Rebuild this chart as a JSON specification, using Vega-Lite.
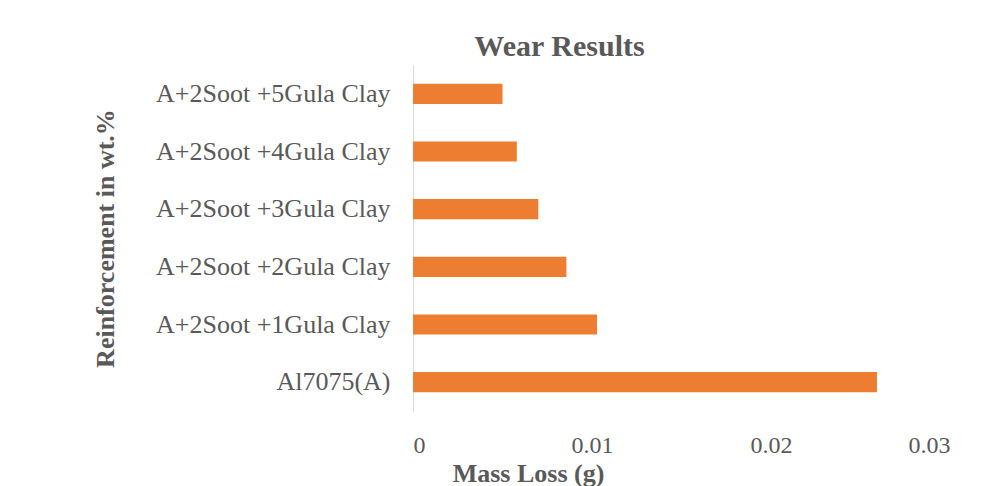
{
  "$schema": "https://vega.github.io/schema/vega-lite/v6.json",
  "autosize": {"type": "none"},
  "width": 537,
  "height": 346,
  "padding": {"left": 413, "top": 65, "right": 34, "bottom": 75},
  "background": "white",
  "title": {
    "text": "Wear Results",
    "font": "Liberation Serif",
    "fontSize": 30,
    "fontWeight": "bold",
    "color": "#595959",
    "anchor": "middle",
    "dx": -122,
    "dy": 33,
    "offset": 12,
    "baseline": "alphabetic"
  },
  "data": {
    "values": [
      {"sample": "A+2Soot +5Gula Clay", "loss": 0.0050},
      {"sample": "A+2Soot +4Gula Clay", "loss": 0.0058},
      {"sample": "A+2Soot +3Gula Clay", "loss": 0.0070},
      {"sample": "A+2Soot +2Gula Clay", "loss": 0.00857},
      {"sample": "A+2Soot +1Gula Clay", "loss": 0.01028},
      {"sample": "Al7075(A)", "loss": 0.02592}
    ]
  },
  "mark": {"type": "bar", "color": "#ED7D31"},
  "encoding": {
    "y": {
      "field": "sample",
      "type": "nominal",
      "sort": null,
      "scale": {"paddingInner": 0.65, "paddingOuter": 0.325},
      "axis": {
        "title": "Reinforcement in wt.%",
        "titleFont": "Liberation Serif",
        "titleFontSize": 26,
        "titleFontWeight": "bold",
        "titleColor": "#595959",
        "titleX": -300,
        "titleY": 173,
        "titleAngle": 270,
        "titleAlign": "center",
        "titleBaseline": "alphabetic",
        "labelFont": "Liberation Serif",
        "labelFontSize": 26,
        "labelColor": "#595959",
        "labelPadding": 23,
        "labelLimit": 400,
        "ticks": false,
        "tickSize": 0,
        "domainColor": "#D9D9D9",
        "domainWidth": 1,
        "grid": false
      }
    },
    "x": {
      "field": "loss",
      "type": "quantitative",
      "scale": {"domain": [0, 0.03], "nice": false},
      "axis": {
        "values": [0, 0.01, 0.02, 0.03],
        "format": "~g",
        "title": "Mass Loss (g)",
        "titleFont": "Liberation Serif",
        "titleFontSize": 26,
        "titleFontWeight": "bold",
        "titleColor": "#595959",
        "titleX": 115,
        "titleY": 70,
        "titleAlign": "center",
        "titleBaseline": "alphabetic",
        "labelFont": "Liberation Serif",
        "labelFontSize": 24,
        "labelColor": "#595959",
        "labelBaseline": "alphabetic",
        "labelPadding": 41,
        "ticks": false,
        "tickSize": 0,
        "domain": false,
        "grid": false
      }
    }
  },
  "config": {"view": {"stroke": null}}
}
